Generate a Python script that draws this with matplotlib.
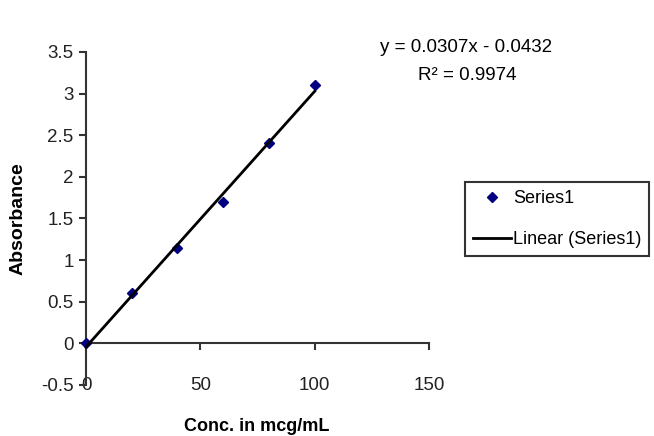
import numpy as np
import matplotlib
matplotlib.use("Agg")
import matplotlib.pyplot as plt
from matplotlib.ticker import FuncFormatter

plt.rcParams['font.family'] = ['Liberation Sans', 'DejaVu Sans']

# Data
conc = [0, 20, 40, 60, 80, 100]
absorbance = [0.0, 0.6, 1.14, 1.7, 2.4, 3.1]
slope = 0.0307
intercept = -0.0432
fit_x = [0, 100]

fig = plt.figure(figsize=(6.54, 4.36), dpi=100)
ax = fig.add_axes([0.1315, 0.117, 0.5245, 0.764])

fit_y = [slope * v + intercept for v in fit_x]
ax.plot(conc, absorbance, linestyle="none", marker="D", markersize=5,
        color="#000080", clip_on=False, label="Series1", zorder=3)
ax.plot(fit_x, fit_y, color="black", linewidth=2, label="Linear (Series1)",
        clip_on=False, zorder=4)

ax.set_xlim(0, 150)
ax.set_ylim(-0.5, 3.5)
ax.set_xticks([0, 50, 100, 150])
ax.set_yticks(np.arange(-0.5, 3.6, 0.5))
ax.yaxis.set_major_formatter(FuncFormatter(lambda v, p: f"{v:g}"))

ax.spines["top"].set_visible(False)
ax.spines["right"].set_visible(False)
ax.spines["bottom"].set_position(("data", 0))
for s in ("left", "bottom"):
    ax.spines[s].set_linewidth(1.5)
    ax.spines[s].set_color("#333333")

ax.tick_params(axis="x", direction="out", length=5, width=1.5, color="#333333",
               pad=19, labelsize=13.5, labelcolor="#222222")
ax.tick_params(axis="y", direction="out", length=5, width=1.5, color="#333333",
               pad=4, labelsize=13.5, labelcolor="#222222")

ax.set_ylabel("Absorbance", fontsize=14, fontweight="bold", labelpad=10)
fig.text(0.392, 0.022, "Conc. in mcg/mL", fontsize=13, fontweight="bold",
         ha="center", va="center")

fig.text(0.713, 0.892, "y = 0.0307x - 0.0432", fontsize=13.5, ha="center", va="center")
fig.text(0.715, 0.826, "R² = 0.9974", fontsize=13.5, ha="center", va="center")

leg = fig.legend(loc="upper left", bbox_to_anchor=(0.711, 0.582), fontsize=13,
                 fancybox=False, framealpha=1, edgecolor="#333333",
                 handlelength=2.1, handletextpad=0.1, borderpad=0.45,
                 labelspacing=1.3, borderaxespad=0)
leg.get_frame().set_linewidth(1.5)

plt.savefig("out.png", dpi=100)
